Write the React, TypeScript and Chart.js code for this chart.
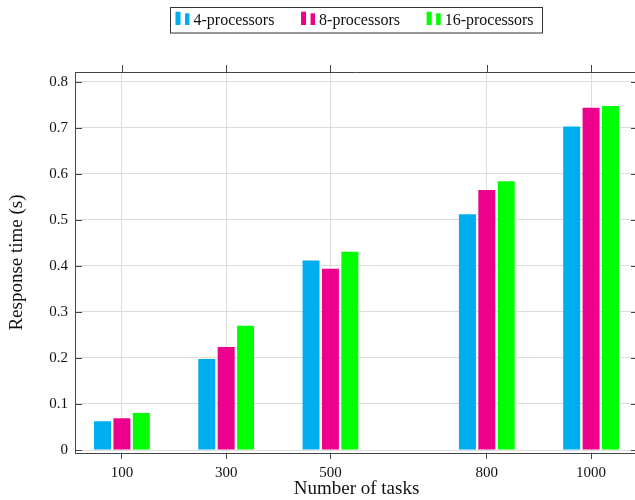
import React, { useEffect, useRef } from "react";
import { Chart, registerables } from "chart.js";

Chart.register(...registerables);

const categories = [100, 300, 500, 800, 1000];
const xTickLabels = ["100", "300", "500", "800", "1000"];
const yTicks = [0, 0.1, 0.2, 0.3, 0.4, 0.5, 0.6, 0.7, 0.8];
const yTickLabels = ["0", "0.1", "0.2", "0.3", "0.4", "0.5", "0.6", "0.7", "0.8"];
const seriesLabels = ["4-processors", "8-processors", "16-processors"];
const proc4 = [0.0625, 0.198, 0.412, 0.5125, 0.703];
const proc8 = [0.069, 0.2236, 0.394, 0.565, 0.744];
const proc16 = [0.0805, 0.27, 0.431, 0.584, 0.7476];
const seriesColors = ["#00AEEF", "#EC008C", "#00FF00"];

const FONT = "'Liberation Serif', 'Times New Roman', serif";
const AXIS = "#444444";
const GRID = "#dcdcdc";

const framePlugin = {
  id: "frame",
  afterDraw(chart: any) {
    const { ctx, chartArea: a, scales } = chart;
    ctx.save();
    ctx.strokeStyle = AXIS;
    ctx.lineWidth = 1;
    ctx.beginPath();
    const top = Math.round(a.top) + 0.5;
    const right = Math.round(a.right) - 0.5;
    ctx.moveTo(a.left, top);
    ctx.lineTo(a.right, top);
    ctx.moveTo(right, a.top);
    ctx.lineTo(right, a.bottom);
    for (const v of yTicks) {
      const y = Math.round(scales.y.getPixelForValue(v)) + 0.5;
      ctx.moveTo(a.left, y);
      ctx.lineTo(a.left + 7, y);
      ctx.moveTo(a.right, y);
      ctx.lineTo(a.right - 7, y);
    }
    for (const v of categories) {
      const x = Math.round(scales.x.getPixelForValue(v)) + 0.5;
      ctx.moveTo(x, a.top);
      ctx.lineTo(x, a.top - 7);
    }
    ctx.stroke();

    // legend
    ctx.font = "16px " + FONT;
    const widths = chart.data.datasets.map((d: any) => ctx.measureText(d.label).width);
    const gap = 26.7;
    const marker = 18;
    const padL = 5;
    const padR = 9;
    const total = padL + widths.reduce((s: number, w: number) => s + marker + w, 0) + gap * (widths.length - 1) + padR;
    const cx = 356.5;
    const boxL = Math.round(cx - total / 2) + 0.5;
    const boxT = 7.5;
    const boxH = 25.5;
    ctx.fillStyle = "#ffffff";
    ctx.fillRect(boxL, boxT, total, boxH);
    ctx.strokeStyle = "#333333";
    ctx.strokeRect(boxL, boxT, total, boxH);
    let x = boxL + padL;
    const cy = 20;
    chart.data.datasets.forEach((d: any, i: number) => {
      ctx.fillStyle = d.backgroundColor;
      ctx.fillRect(x, cy - 8.3, 5, 13.3);
      ctx.fillRect(x + 9.5, cy - 6.7, 4.5, 11.7);
      ctx.fillStyle = "#111111";
      ctx.textBaseline = "alphabetic";
      ctx.textAlign = "left";
      ctx.fillText(d.label, x + marker, 25);
      x += marker + widths[i] + gap;
    });
    ctx.restore();
  },
};

export default function App() {
  const ref = useRef<HTMLCanvasElement | null>(null);

  useEffect(() => {
    if (!ref.current) return;
    const series = [proc4, proc8, proc16];
    const chart = new Chart(ref.current, {
      type: "bar",
      data: {
        datasets: series.map((vals, i) => ({
          label: seriesLabels[i],
          data: categories.map((c, j) => ({ x: c, y: vals[j] })),
          backgroundColor: seriesColors[i],
          borderWidth: 0,
          categoryPercentage: 0.558,
          barPercentage: 0.876,
        })),
      },
      options: {
        responsive: false,
        animation: false,
        layout: { padding: { top: 72, right: 12, left: 0, bottom: 0 } },
        plugins: {
          legend: { display: false },
          tooltip: { enabled: false },
        },
        scales: {
          x: {
            type: "linear",
            offset: false,
            min: 10,
            max: 1090,
            afterBuildTicks: (s: any) => {
              s.ticks = categories.map((v) => ({ value: v }));
            },
            afterFit: (s: any) => {
              s.height = 47;
            },
            ticks: {
              font: { family: FONT, size: 15 },
              color: "#111111",
              padding: 5,
              maxRotation: 0,
              autoSkip: false,
              callback: (v: any) => {
                const i = categories.indexOf(Number(v));
                return i >= 0 ? xTickLabels[i] : "";
              },
            },
            grid: { color: GRID, tickColor: AXIS, tickLength: 6, lineWidth: 1, offset: false },
            border: { color: AXIS, width: 1 },
            title: {
              display: true,
              text: "Number of tasks",
              font: { family: FONT, size: 19 },
              color: "#111111",
              padding: { top: 0, bottom: 0 },
            },
          },
          y: {
            type: "linear",
            min: -0.0065,
            max: 0.8215,
            afterBuildTicks: (s: any) => {
              s.ticks = yTicks.map((v) => ({ value: v }));
            },
            afterFit: (s: any) => {
              s.width = 75;
            },
            ticks: {
              font: { family: FONT, size: 15 },
              color: "#111111",
              padding: 7,
              autoSkip: false,
              callback: (v: any) => {
                const i = yTicks.findIndex((t) => Math.abs(t - Number(v)) < 1e-9);
                return i >= 0 ? yTickLabels[i] : "";
              },
            },
            grid: { color: GRID, drawTicks: false, lineWidth: 1 },
            border: { color: AXIS, width: 1 },
            title: {
              display: true,
              text: "Response time (s)",
              font: { family: FONT, size: 19 },
              color: "#111111",
              padding: { top: 6, bottom: 0 },
            },
          },
        },
      },
      plugins: [framePlugin],
    } as any);
    return () => chart.destroy();
  }, []);

  return (
    <div
      style={{
        position: "absolute",
        left: 0,
        top: 0,
        width: 635,
        height: 500,
        overflow: "hidden",
        background: "#ffffff",
      }}
    >
      <canvas ref={ref} width={650} height={500} />
    </div>
  );
}
